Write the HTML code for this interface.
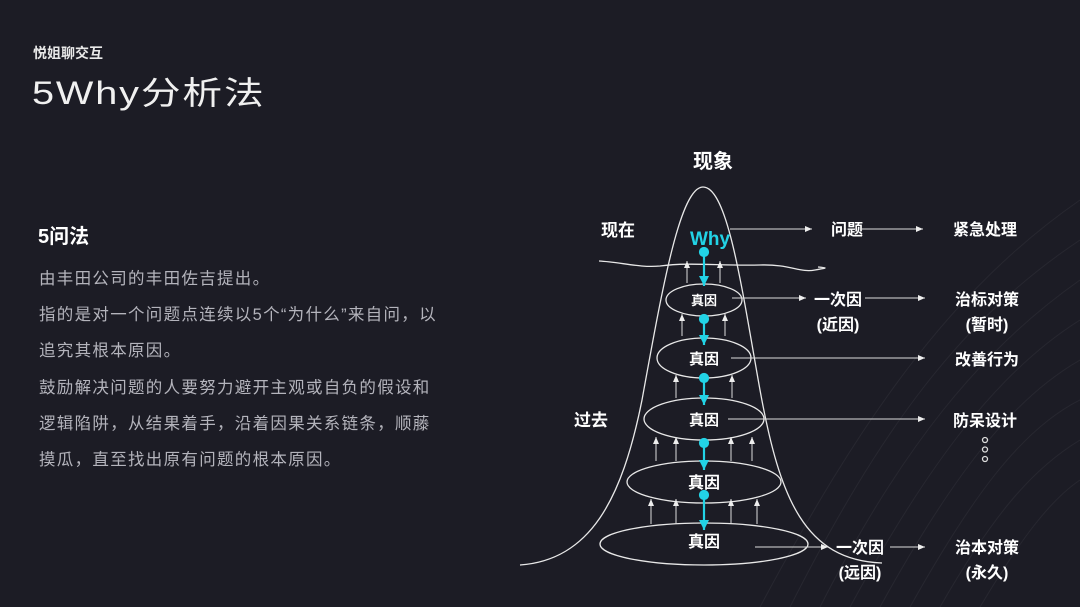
<!DOCTYPE html>
<html><head><meta charset="utf-8"><style>
body{margin:0;width:1080px;height:607px;background:#1c1c25;overflow:hidden;font-family:"Liberation Sans","Noto Sans CJK SC",sans-serif;color:#fff;position:relative}
.a{position:absolute;white-space:nowrap}
</style></head><body>
<div class="a" style="left:33px;top:43px;font-size:14px;font-weight:bold;color:#e8e8e8">悦姐聊交互</div>
<div class="a" style="left:32px;top:68px;font-size:32px;letter-spacing:1.5px;color:#f0f0f0;transform:scaleX(1.24);transform-origin:0 0">5Why分析法</div>
<div class="a" style="left:38px;top:220px;font-size:20px;font-weight:bold">5问法</div>
<div class="a" style="left:39px;top:261px;font-size:16.5px;letter-spacing:1.3px;line-height:36.2px;color:#b4b4bc">由丰田公司的丰田佐吉提出。<br>指的是对一个问题点连续以5个“为什么”来自问，以<br>追究其根本原因。<br>鼓励解决问题的人要努力避开主观或自负的假设和<br>逻辑陷阱，从结果着手，沿着因果关系链条，顺藤<br>摸瓜，直至找出原有问题的根本原因。</div>
<svg width="1080" height="607" style="position:absolute;left:0;top:0" font-family="Liberation Sans,Noto Sans CJK SC,sans-serif">
<defs>
<marker id="w" markerWidth="8" markerHeight="8" refX="7" refY="4" orient="auto" markerUnits="userSpaceOnUse"><path d="M0,1 L7,4 L0,7z" fill="#eee"/></marker>
<marker id="c" markerWidth="12" markerHeight="12" refX="10" refY="6" orient="auto" markerUnits="userSpaceOnUse"><path d="M0,1 L10,6 L0,11z" fill="#22d3e6"/></marker>
</defs>
<g stroke="#fff" stroke-opacity="0.05" fill="none">
<path d="M820,607 C900,450 980,350 1080,280"/><path d="M850,607 C930,460 1000,370 1080,320"/><path d="M880,607 C950,480 1010,400 1080,360"/><path d="M910,607 C970,500 1020,430 1080,400"/><path d="M940,607 C990,520 1030,470 1080,440"/><path d="M790,607 C880,430 960,320 1080,240"/><path d="M760,607 C860,420 950,290 1080,200"/><path d="M980,607 C1020,540 1050,500 1080,480"/>
</g>
<g stroke="#e8e8e8" stroke-width="1.3" fill="none">
<path d="M520,565 C590,560 622,500 642,400 C662,290 680,187 703,187 C728,187 742,290 760,390 C780,500 805,560 882,563"/>
<path d="M599,261 C620,262 640,268 660,266 C690,262 720,266 760,265 C790,264 800,273 815,270 C825,268 830,268 818,267"/>
<ellipse cx="704" cy="300" rx="38" ry="16"/>
<ellipse cx="704" cy="358" rx="47" ry="20"/>
<ellipse cx="704" cy="419" rx="60" ry="21"/>
<ellipse cx="704" cy="482" rx="77" ry="21"/>
<ellipse cx="704" cy="544" rx="104" ry="21"/>
</g>
<g stroke="#ddd" stroke-width="1" marker-end="url(#w)">
<line x1="687" y1="283" x2="687" y2="261"/><line x1="720" y1="283" x2="720" y2="261"/>
<line x1="682" y1="336" x2="682" y2="314"/><line x1="725" y1="336" x2="725" y2="314"/>
<line x1="676" y1="398" x2="676" y2="375"/><line x1="732" y1="398" x2="732" y2="375"/>
<line x1="656" y1="461" x2="656" y2="437"/><line x1="676" y1="461" x2="676" y2="437"/><line x1="731" y1="461" x2="731" y2="437"/><line x1="752" y1="461" x2="752" y2="437"/>
<line x1="651" y1="524" x2="651" y2="499"/><line x1="676" y1="524" x2="676" y2="499"/><line x1="731" y1="524" x2="731" y2="499"/><line x1="757" y1="524" x2="757" y2="499"/>
<line x1="730" y1="229" x2="812" y2="229"/><line x1="862" y1="229" x2="923" y2="229"/>
<line x1="732" y1="298" x2="806" y2="298"/><line x1="865" y1="298" x2="925" y2="298"/>
<line x1="731" y1="358" x2="925" y2="358"/>
<line x1="728" y1="419" x2="925" y2="419"/>
<line x1="755" y1="547" x2="828" y2="547"/><line x1="890" y1="547" x2="925" y2="547"/>
</g>
<g stroke="#22d3e6" stroke-width="2.2" fill="#22d3e6">
<line x1="704" y1="252" x2="704" y2="286" marker-end="url(#c)"/><circle cx="704" cy="252" r="4"/>
<line x1="704" y1="319" x2="704" y2="345" marker-end="url(#c)"/><circle cx="704" cy="319" r="4"/>
<line x1="704" y1="378" x2="704" y2="405" marker-end="url(#c)"/><circle cx="704" cy="378" r="4"/>
<line x1="704" y1="443" x2="704" y2="470" marker-end="url(#c)"/><circle cx="704" cy="443" r="4"/>
<line x1="704" y1="495" x2="704" y2="530" marker-end="url(#c)"/><circle cx="704" cy="495" r="4"/>
</g>
<g fill="#fff" font-weight="bold" text-anchor="middle">
<text x="713" y="168" font-size="20">现象</text>
<text x="618" y="236" font-size="17">现在</text>
<text x="591" y="426" font-size="17">过去</text>
<text x="710" y="245" font-size="19" fill="#22d3e6">Why</text>
<text x="704" y="305" font-size="13">真因</text>
<text x="704" y="364" font-size="15">真因</text>
<text x="704" y="425" font-size="15">真因</text>
<text x="704" y="488" font-size="16">真因</text>
<text x="704" y="547" font-size="16">真因</text>
<text x="847" y="235" font-size="16">问题</text>
<text x="985" y="235" font-size="16">紧急处理</text>
<text x="838" y="305" font-size="16">一次因</text>
<text x="838" y="330" font-size="16">(近因)</text>
<text x="987" y="305" font-size="16">治标对策</text>
<text x="987" y="330" font-size="16">(暂时)</text>
<text x="987" y="365" font-size="16">改善行为</text>
<text x="985" y="426" font-size="16">防呆设计</text>
<text x="860" y="553" font-size="16">一次因</text>
<text x="860" y="578" font-size="16">(远因)</text>
<text x="987" y="553" font-size="16">治本对策</text>
<text x="987" y="578" font-size="16">(永久)</text>
</g>
<g stroke="#ddd" fill="none" stroke-width="1.3"><circle cx="985" cy="440" r="2.5"/><circle cx="985" cy="449.5" r="2.5"/><circle cx="985" cy="459" r="2.5"/></g>
</svg>
</body></html>
